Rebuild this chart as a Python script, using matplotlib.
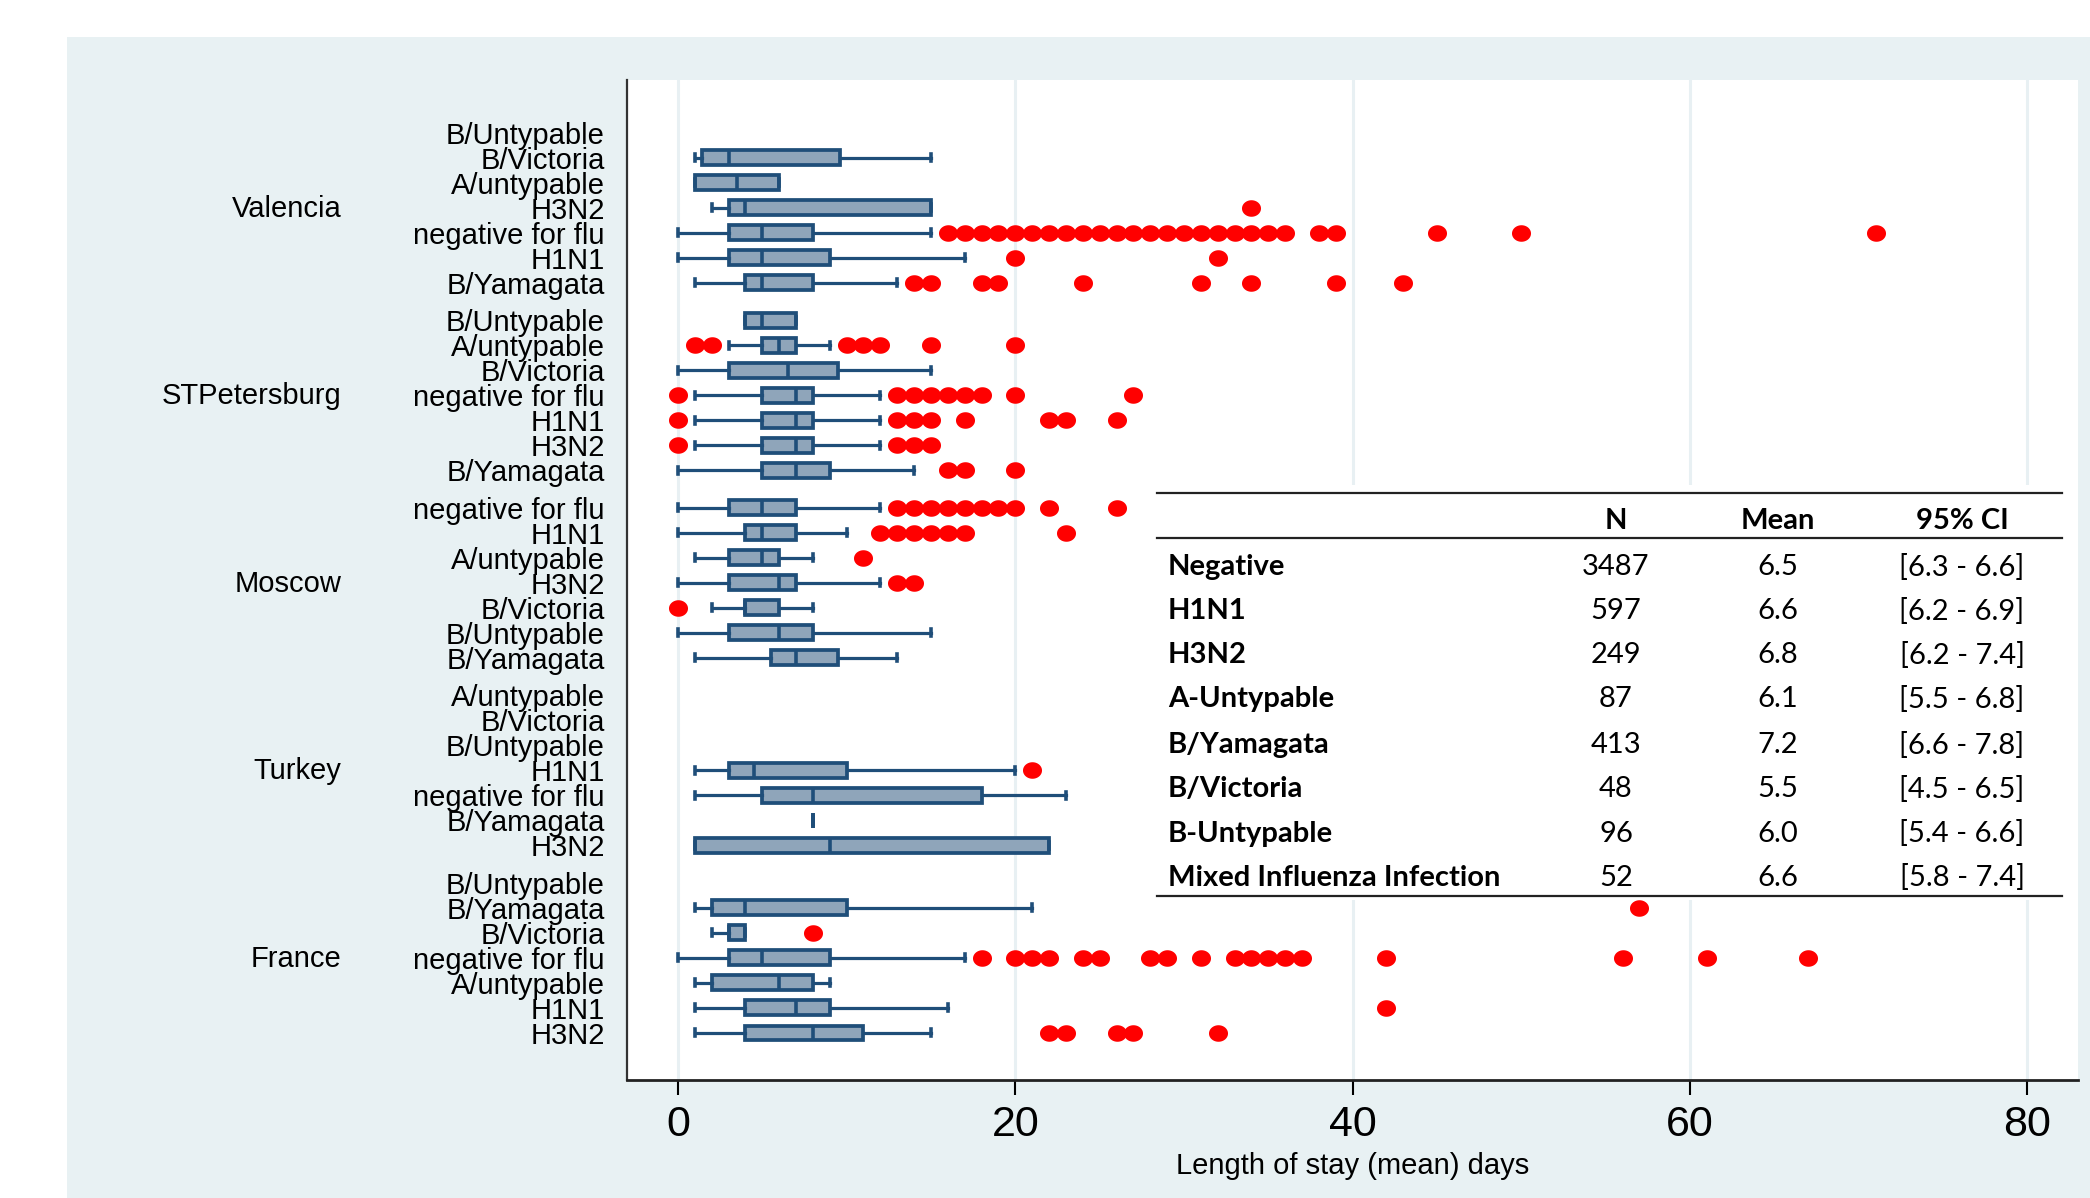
import numpy as np
import matplotlib.pyplot as plt
from matplotlib.path import Path
from matplotlib.patches import Rectangle
from matplotlib.lines import Line2D

plt.rcParams['font.family'] = ['Liberation Sans', 'DejaVu Sans']

# ---- data ----
countries = ["Valencia", "STPetersburg", "Moscow", "Turkey", "France"]

# categories listed top to bottom inside each country
valencia_cats = ["B/Untypable", "B/Victoria", "A/untypable", "H3N2",
                 "negative for flu", "H1N1", "B/Yamagata"]
stpete_cats = ["B/Untypable", "A/untypable", "B/Victoria", "negative for flu",
               "H1N1", "H3N2", "B/Yamagata"]
moscow_cats = ["negative for flu", "H1N1", "A/untypable", "H3N2",
               "B/Victoria", "B/Untypable", "B/Yamagata"]
turkey_cats = ["A/untypable", "B/Victoria", "B/Untypable", "H1N1",
               "negative for flu", "B/Yamagata", "H3N2"]
france_cats = ["B/Untypable", "B/Yamagata", "B/Victoria", "negative for flu",
               "A/untypable", "H1N1", "H3N2"]

# (whisker low, q1, median, q3, whisker high), None = no data
valencia_box = [None, (1, 1.4, 3, 9.6, 15), (1, 1, 3.5, 6, 6), (2, 3, 4, 15, 15),
                (0, 3, 5, 8, 15), (0, 3, 5, 9, 17), (1, 4, 5, 8, 13)]
stpete_box = [(4, 4, 5, 7, 7), (3, 5, 6, 7, 9), (0, 3, 6.5, 9.5, 15), (1, 5, 7, 8, 12),
              (1, 5, 7, 8, 12), (1, 5, 7, 8, 12), (0, 5, 7, 9, 14)]
moscow_box = [(0, 3, 5, 7, 12), (0, 4, 5, 7, 10), (1, 3, 5, 6, 8), (0, 3, 6, 7, 12),
              (2, 4, 4, 6, 8), (0, 3, 6, 8, 15), (1, 5.5, 7, 9.5, 13)]
turkey_box = [None, None, None, (1, 3, 4.5, 10, 20), (1, 5, 8, 18, 23),
              (8, 8, 8, 8, 8), (1, 1, 9, 22, 22)]
france_box = [None, (1, 2, 4, 10, 21), (2, 3, 3, 4, 4), (0, 3, 5, 9, 17),
              (1, 2, 6, 8, 9), (1, 4, 7, 9, 16), (1, 4, 8, 11, 15)]

# outside values (red dots)
valencia_out = [[], [], [], [34],
                [16, 17, 18, 19, 20, 21, 22, 23, 24, 25, 26, 27, 28, 29, 30, 31, 32,
                 33, 34, 35, 36, 38, 39, 45, 50, 71],
                [20, 32], [14, 15, 18, 19, 24, 31, 34, 39, 43]]
stpete_out = [[], [1, 2, 10, 11, 12, 15, 20], [], [0, 13, 14, 15, 16, 17, 18, 20, 27],
              [0, 13, 14, 15, 17, 22, 23, 26], [0, 13, 14, 15], [16, 17, 20]]
moscow_out = [[13, 14, 15, 16, 17, 18, 19, 20, 22, 26], [12, 13, 14, 15, 16, 17, 23],
              [11], [13, 14], [0], [], []]
turkey_out = [[], [], [], [21], [], [], []]
france_out = [[], [57], [8],
              [18, 20, 21, 22, 24, 25, 28, 29, 31, 33, 34, 35, 36, 37, 42, 56, 61, 67],
              [], [42], [22, 23, 26, 27, 32]]

x_ticks = [0, 20, 40, 60, 80]

# summary table
table_labels = ["Negative", "H1N1", "H3N2", "A-Untypable", "B/Yamagata",
                "B/Victoria", "B-Untypable", "Mixed Influenza Infection"]
table_n = [3487, 597, 249, 87, 413, 48, 96, 52]
table_mean = [6.5, 6.6, 6.8, 6.1, 7.2, 5.5, 6.0, 6.6]
table_ci = ["[6.3 - 6.6]", "[6.2 - 6.9]", "[6.2 - 7.4]", "[5.5 - 6.8]",
            "[6.6 - 7.8]", "[4.5 - 6.5]", "[5.4 - 6.6]", "[5.8 - 7.4]"]

groups = [(valencia_cats, valencia_box, valencia_out),
          (stpete_cats, stpete_box, stpete_out),
          (moscow_cats, moscow_box, moscow_out),
          (turkey_cats, turkey_box, turkey_out),
          (france_cats, france_box, france_out)]

W, H = 2090, 1198
def fx(px):
    return px / W
def fy(py):
    return 1 - py / H

fig = plt.figure(figsize=(W / 100, H / 100), dpi=100)
fig.patch.set_facecolor("white")
fig.add_artist(Rectangle((fx(67), 0), 1 - fx(67), fy(37), transform=fig.transFigure,
                         facecolor="#e8f1f3", edgecolor="none", zorder=-10))

ax = fig.add_axes([fx(627), fy(1080), fx(2078) - fx(627), fy(80) - fy(1080)])
ax.set_facecolor("white")

stats = []
positions = []
tick_pos = []
tick_lab = []
for g, (cats, boxes, outs) in enumerate(groups):
    for i, cat in enumerate(cats):
        y = g * 7.5 + i
        tick_pos.append(y)
        tick_lab.append(cat)
        if boxes[i] is None:
            continue
        lo, q1, med, q3, hi = boxes[i]
        stats.append(dict(whislo=lo, q1=q1, med=med, q3=q3, whishi=hi, fliers=outs[i]))
        positions.append(y)
    ax.text(-0.197, g * 7.5 + 3 - 0.08, countries[g], transform=ax.get_yaxis_transform(),
            ha='right', va='center_baseline', fontsize=21)

# slightly wide ellipse for the dots
t = np.linspace(0, 2 * np.pi, 60)
dot = Path(np.column_stack([1.15 * np.cos(t), np.sin(t)]), closed=True)

navy = "#1f4e79"
ax.bxp(stats, positions=positions, widths=0.6, capwidths=0.28,
       orientation='horizontal', patch_artist=True, manage_ticks=False,
       boxprops=dict(facecolor="#8fa5ba", edgecolor=navy, linewidth=2.7),
       whiskerprops=dict(color=navy, linewidth=2.3),
       capprops=dict(color=navy, linewidth=2.6),
       medianprops=dict(color=navy, linewidth=2.6),
       flierprops=dict(marker=dot, markerfacecolor="#ff0000", markeredgecolor="none",
                       markersize=13.7, linestyle="none"))

ax.set_xlim(-3.02, 83.0)
ax.set_ylim(37.88, -2.12)
ax.set_yticks(tick_pos, tick_lab)
ax.set_xticks(x_ticks)
ax.tick_params(axis='y', length=0, pad=16, labelsize=21)
ax.tick_params(axis='x', length=11, width=1.5, pad=7, labelsize=31)
ax.set_xlabel("Length of stay (mean) days", fontsize=21, labelpad=5)

ax.xaxis.grid(True, color="#e8f0f3", linewidth=2.2)
ax.set_axisbelow(True)
for s in ["top", "right"]:
    ax.spines[s].set_visible(False)
ax.spines["left"].set_linewidth(1.6)
ax.spines["left"].set_color("#333333")
ax.spines["bottom"].set_linewidth(2)
ax.spines["bottom"].set_color("#222222")

# ---- summary table drawn over the plot ----
fig.add_artist(Rectangle((fx(1157), fy(900)), fx(2063) - fx(1157), fy(485) - fy(900),
                         transform=fig.transFigure, facecolor="white",
                         edgecolor="none", zorder=5))
for ly in [493, 538, 896]:
    fig.add_artist(Line2D([fx(1157), fx(2062)], [fy(ly), fy(ly)],
                          transform=fig.transFigure, color="#222222",
                          linewidth=1.6, zorder=6))

col_n, col_mean, col_ci, col_lab = 1616, 1778, 1962, 1168
tfont = dict(family=['Lato', 'DejaVu Sans'], fontsize=21, zorder=7)
for txt, cx in [("N", col_n), ("Mean", col_mean), ("95% CI", col_ci)]:
    fig.text(fx(cx), fy(521), txt, ha='center', va='center', fontweight='bold', **tfont)

row_y = [567, 611, 655, 699, 745, 789, 834, 878]
for k in range(len(table_labels)):
    y = fy(row_y[k])
    fig.text(fx(col_lab), y, table_labels[k], ha='left', va='center',
             fontweight='bold', **tfont)
    fig.text(fx(col_n), y, str(table_n[k]), ha='center', va='center', **tfont)
    fig.text(fx(col_mean), y, f"{table_mean[k]:.1f}", ha='center', va='center', **tfont)
    fig.text(fx(col_ci), y, table_ci[k], ha='center', va='center', **tfont)

fig.savefig("out.png", dpi=100, facecolor=fig.get_facecolor())
